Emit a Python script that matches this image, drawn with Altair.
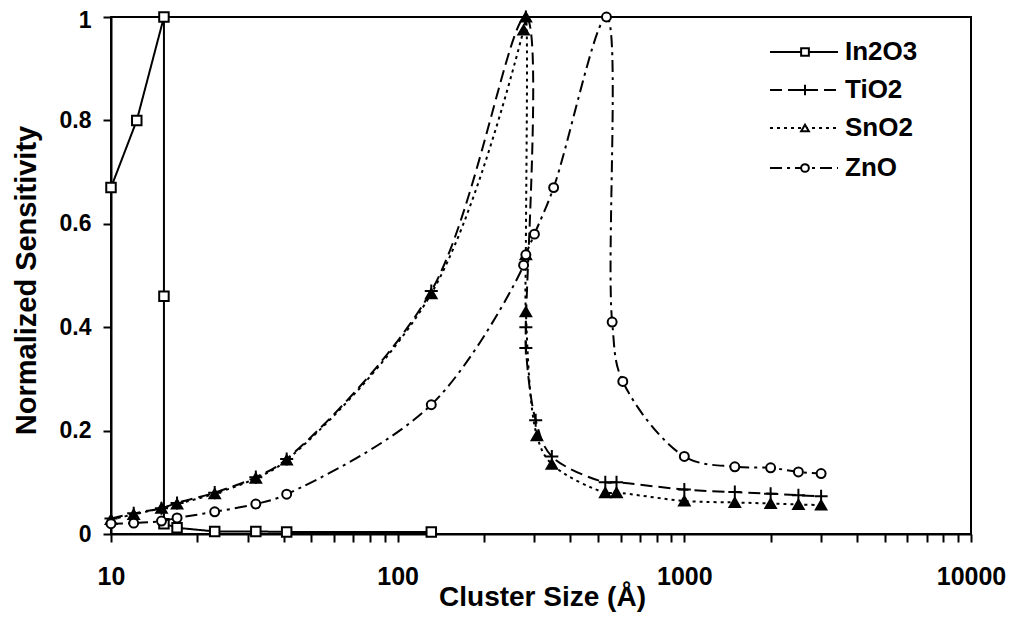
import altair as alt
import pandas as pd

# ---------------- data ----------------
series_names = ["In2O3", "TiO2", "SnO2", "ZnO"]

in2o3_x = [10, 12.3, 15.3, 15.3, 15.3, 17, 23, 32, 41, 131]
in2o3_y = [0.67, 0.80, 1.0, 0.46, 0.02, 0.012, 0.005, 0.005, 0.004, 0.004]

tio2_x = [10, 12, 15, 17, 23, 32, 41, 131, 280, 280, 280, 303, 345, 530, 580,
          1000, 1500, 2000, 2500, 3000]
tio2_y = [0.03, 0.04, 0.05, 0.06, 0.08, 0.11, 0.145, 0.47, 1.0, 0.40, 0.36, 0.22,
          0.15, 0.10, 0.10, 0.086, 0.081, 0.078, 0.075, 0.073]

sno2_x = [10, 12, 15, 17, 23, 32, 41, 131, 275, 280, 280, 280, 306, 345, 530, 580,
          1000, 1500, 2000, 2500, 3000]
sno2_y = [0.028, 0.038, 0.05, 0.058, 0.078, 0.108, 0.143, 0.465, 0.975, 1.0, 0.54,
          0.43, 0.19, 0.135, 0.08, 0.08, 0.064, 0.061, 0.059, 0.057, 0.056]

zno_x = [10, 12, 15, 17, 23, 32, 41, 131, 275, 280, 300, 350, 535, 560, 610,
         1000, 1500, 2000, 2500, 3000]
zno_y = [0.02, 0.021, 0.025, 0.031, 0.043, 0.058, 0.077, 0.25, 0.52, 0.54, 0.58,
         0.67, 1.0, 0.41, 0.295, 0.15, 0.13, 0.128, 0.12, 0.117]

x_major_ticks = [10, 100, 1000, 10000]
x_minor_ticks = [20, 30, 40, 50, 60, 70, 80, 90,
                 200, 300, 400, 500, 600, 700, 800, 900,
                 2000, 3000, 4000, 5000, 6000, 7000, 8000, 9000]
y_ticks = [0, 0.2, 0.4, 0.6, 0.8, 1.0]

x_title = "Cluster Size (Å)"
y_title = "Normalized Sensitivity"

series_data = {
    "In2O3": (in2o3_x, in2o3_y),
    "TiO2": (tio2_x, tio2_y),
    "SnO2": (sno2_x, sno2_y),
    "ZnO": (zno_x, zno_y),
}

# ---------------- styles ----------------
FONT = "Liberation Sans, Arial, Helvetica, sans-serif"
CROSS = "M-1,0H1M0,-1V1"
styles = {
    "In2O3": dict(dash=[1, 0], shape="square", fill="white", size=90, interp="linear"),
    "TiO2": dict(dash=[12, 6], shape=CROSS, fill=None, size=170, interp="catmull-rom"),
    "SnO2": dict(dash=[3, 4], shape="triangle-up", fill="black", size=110, interp="catmull-rom"),
    "ZnO": dict(dash=[12, 5, 3, 5], shape="circle", fill="white", size=80, interp="catmull-rom"),
}
legend_rows = [35, 73, 111, 151]

W, H = 860, 517

xscale = alt.Scale(type="log", domain=[10, 10000])
yscale = alt.Scale(domain=[0, 1])

all_x_ticks = sorted(x_major_ticks + x_minor_ticks)
x_axis = alt.Axis(
    values=all_x_ticks,
    labelExpr=f"indexof({x_major_ticks}, datum.value) >= 0 ? format(datum.value, 'd') : ''",
    grid=False, tickSize=8, tickWidth=2, tickColor="black",
    domainColor="black", domainWidth=2,
    labelFont=FONT, labelFontSize=25, labelFontWeight="bold", labelColor="black",
    labelPadding=22, labelFlush=False, labelOverlap=False,
    title=x_title, titleFont=FONT, titleFontSize=28, titleFontWeight="bold",
    titleColor="black", titleX=431, titleY=71, titleBaseline="alphabetic",
    titleAlign="center",
)
y_axis = alt.Axis(
    values=y_ticks, format="~g",
    grid=False, tickSize=8, tickWidth=2, tickColor="black",
    domainColor="black", domainWidth=2,
    labelFont=FONT, labelFontSize=23, labelFontWeight="bold", labelColor="black",
    labelPadding=12, labelOverlap=False, labelFlush=False,
    labelOffset={"expr": "datum.value == 1 ? 3 : 0"},
    title=y_title, titleFont=FONT, titleFontSize=29, titleFontWeight="bold",
    titleColor="black", titleX=-76, titleY=263, titleAngle=270,
    titleBaseline="alphabetic", titleAlign="center",
)

layers = []
for name in series_names:
    xs, ys = series_data[name]
    df = pd.DataFrame({"x": xs, "y": ys, "idx": list(range(len(xs)))})
    st = styles[name]
    base = alt.Chart(df)
    line = base.mark_line(
        color="black", strokeWidth=2, strokeDash=st["dash"],
        interpolate=st["interp"], clip=True,
    ).encode(
        x=alt.X("x:Q", scale=xscale, axis=x_axis),
        y=alt.Y("y:Q", scale=yscale, axis=y_axis),
        order=alt.Order("idx:Q"),
    )
    if st["fill"] is None:
        pt_mark = base.mark_point(shape=st["shape"], size=st["size"], filled=False,
                                  stroke="black", strokeWidth=2, opacity=1)
    else:
        pt_mark = base.mark_point(shape=st["shape"], size=st["size"], filled=True,
                                  fill=st["fill"], stroke="black", strokeWidth=2,
                                  opacity=1)
    pts = pt_mark.encode(
        x=alt.X("x:Q", scale=xscale, axis=x_axis),
        y=alt.Y("y:Q", scale=yscale, axis=y_axis),
    )
    layers += [line, pts]

# ---------------- legend (inside, top-right) ----------------
for name, ry in zip(series_names, legend_rows):
    st = styles[name]
    ldf = pd.DataFrame({"label": [name]})
    lb = alt.Chart(ldf)
    layers.append(
        lb.mark_rule(color="black", strokeWidth=2, strokeDash=st["dash"]).encode(
            x=alt.value(659), x2=alt.value(727), y=alt.value(ry)
        )
    )
    lsize = 60 if name != "TiO2" else 110
    if st["fill"] is None:
        lp = lb.mark_point(shape=st["shape"], size=lsize, filled=False,
                           stroke="black", strokeWidth=2, opacity=1)
    else:
        lp = lb.mark_point(shape=st["shape"], size=lsize, filled=True,
                           fill="white", stroke="black", strokeWidth=2, opacity=1)
    layers.append(lp.encode(x=alt.value(694), y=alt.value(ry)))
    layers.append(
        lb.mark_text(align="left", baseline="middle", font=FONT, fontSize=26,
                     fontWeight="bold", color="black").encode(
            x=alt.value(734), y=alt.value(ry), text="label:N"
        )
    )

chart = alt.layer(*layers).properties(
    width=W, height=H,
    autosize=alt.AutoSizeParams(type="none"),
    padding={"left": 103, "top": 9, "right": 35, "bottom": 78},
    background="white",
).configure_view(stroke="black", strokeWidth=2)

chart.save("out.html", embed_options={"renderer": "svg", "actions": False})
